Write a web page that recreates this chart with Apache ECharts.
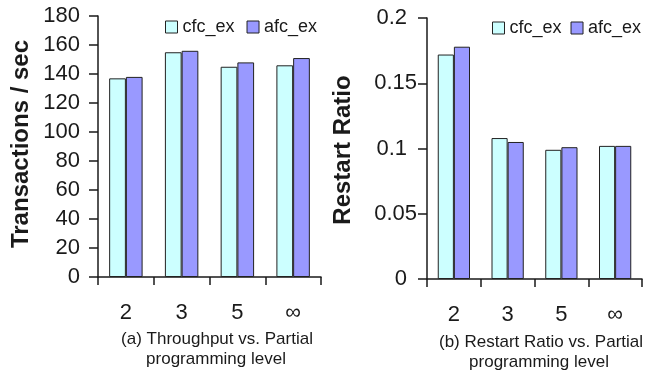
<!DOCTYPE html>
<html>
<head>
<meta charset="utf-8">
<script src="https://cdn.jsdelivr.net/npm/echarts@6/dist/echarts.min.js"></script>
<style>
  html, body { margin: 0; padding: 0; background: #fff; }
  #chart { width: 653px; height: 373px; }
</style>
</head>
<body>
<div id="chart"></div>
<script>
const categories = ["2", "3", "5", "\u221E"];
const seriesNames = ["cfc_ex", "afc_ex"];
const throughputCfc = [137, 155, 145, 146];
const throughputAfc = [138, 156, 148, 151];
const restartCfc = [0.172, 0.108, 0.099, 0.102];
const restartAfc = [0.178, 0.105, 0.101, 0.102];
const throughputTicks = { min: 0, max: 180, interval: 20 };
const restartTicks = { min: 0, max: 0.2, interval: 0.05 };
const axisNames = ["Transactions / sec", "Restart Ratio"];

const FONT = "Liberation Sans";
const INK = "#1a1a1a";
const colors = ["#CCFFFF", "#9999FF"];

const chart = echarts.init(document.getElementById("chart"));

function xAxis(gridIndex) {
  return {
    type: "category",
    gridIndex: gridIndex,
    data: categories,
    axisLine: { lineStyle: { color: INK, width: 1.5 } },
    axisTick: { show: true, length: 8, lineStyle: { color: INK, width: 1.5 } },
    axisLabel: { color: INK, fontFamily: FONT, fontSize: 22, margin: 25 },
  };
}

function yAxis(gridIndex, ticks, margin, formatter) {
  return {
    type: "value",
    gridIndex: gridIndex,
    min: ticks.min,
    max: ticks.max,
    interval: ticks.interval,
    axisLine: { show: true, lineStyle: { color: INK, width: 1.5 } },
    axisTick: { show: true, length: 9, lineStyle: { color: INK, width: 1.5 } },
    splitLine: { show: false },
    axisLabel: {
      color: INK, fontFamily: FONT, fontSize: 22, margin: margin,
      formatter: formatter,
      rich: { pad: { fontFamily: FONT, fontSize: 22, color: INK, padding: [0, 10, 0, 0] } },
    },
  };
}

function bar(name, data, idx, color) {
  return {
    name: name,
    type: "bar",
    xAxisIndex: idx,
    yAxisIndex: idx,
    data: data,
    barGap: 0,
    barCategoryGap: "40%",
    itemStyle: { color: color, borderColor: "#222", borderWidth: 1 },
  };
}

function legend(left, top, gap) {
  return {
    left: left,
    top: top,
    itemWidth: 12,
    itemHeight: 12,
    itemGap: gap,
    icon: "rect",
    data: seriesNames.map((n, i) => ({
      name: n,
      itemStyle: { color: colors[i], borderColor: "#222", borderWidth: 1 },
    })),
    textStyle: { color: INK, fontFamily: FONT, fontSize: 18 },
  };
}

function caption(text, cx, y) {
  return {
    text: text,
    left: cx,
    top: y,
    textAlign: "center",
    textStyle: { color: INK, fontFamily: FONT, fontSize: 17, fontWeight: "normal" },
  };
}

// rotated axis title
function axisTitle(text, x, y) {
  return {
    type: "text",
    x: x,
    y: y,
    rotation: Math.PI / 2,
    style: {
      text: text,
      align: "center",
      verticalAlign: "middle",
      fill: INK,
      font: "bold 24px '" + FONT + "'",
    },
  };
}

const option = {
  animation: false,
  color: colors,
  title: [
    caption("(a) Throughput vs. Partial", 212, 326),
    caption("programming level", 211, 346),
    caption("(b) Restart Ratio vs. Partial", 536, 329),
    caption("programming level", 534, 349),
  ],
  legend: [legend(160, 13, 12), legend(487, 14, 9)],
  grid: [
    { left: 98, right: 332, top: 16, bottom: 96 },
    { left: 427, right: 11, top: 18, bottom: 94 },
  ],
  xAxis: [xAxis(0), xAxis(1)],
  yAxis: [
    yAxis(0, throughputTicks, 18),
    yAxis(1, restartTicks, 10, function (v) {
      const s = String(+v.toFixed(2));
      return s.length < 4 ? "{pad|" + s + "}" : s;
    }),
  ],
  graphic: [axisTitle(axisNames[0], 21, 144), axisTitle(axisNames[1], 343, 150)],
  series: [
    bar(seriesNames[0], throughputCfc, 0, colors[0]),
    bar(seriesNames[1], throughputAfc, 0, colors[1]),
    bar(seriesNames[0], restartCfc, 1, colors[0]),
    bar(seriesNames[1], restartAfc, 1, colors[1]),
  ],
};

chart.setOption(option);
</script>
</body>
</html>
